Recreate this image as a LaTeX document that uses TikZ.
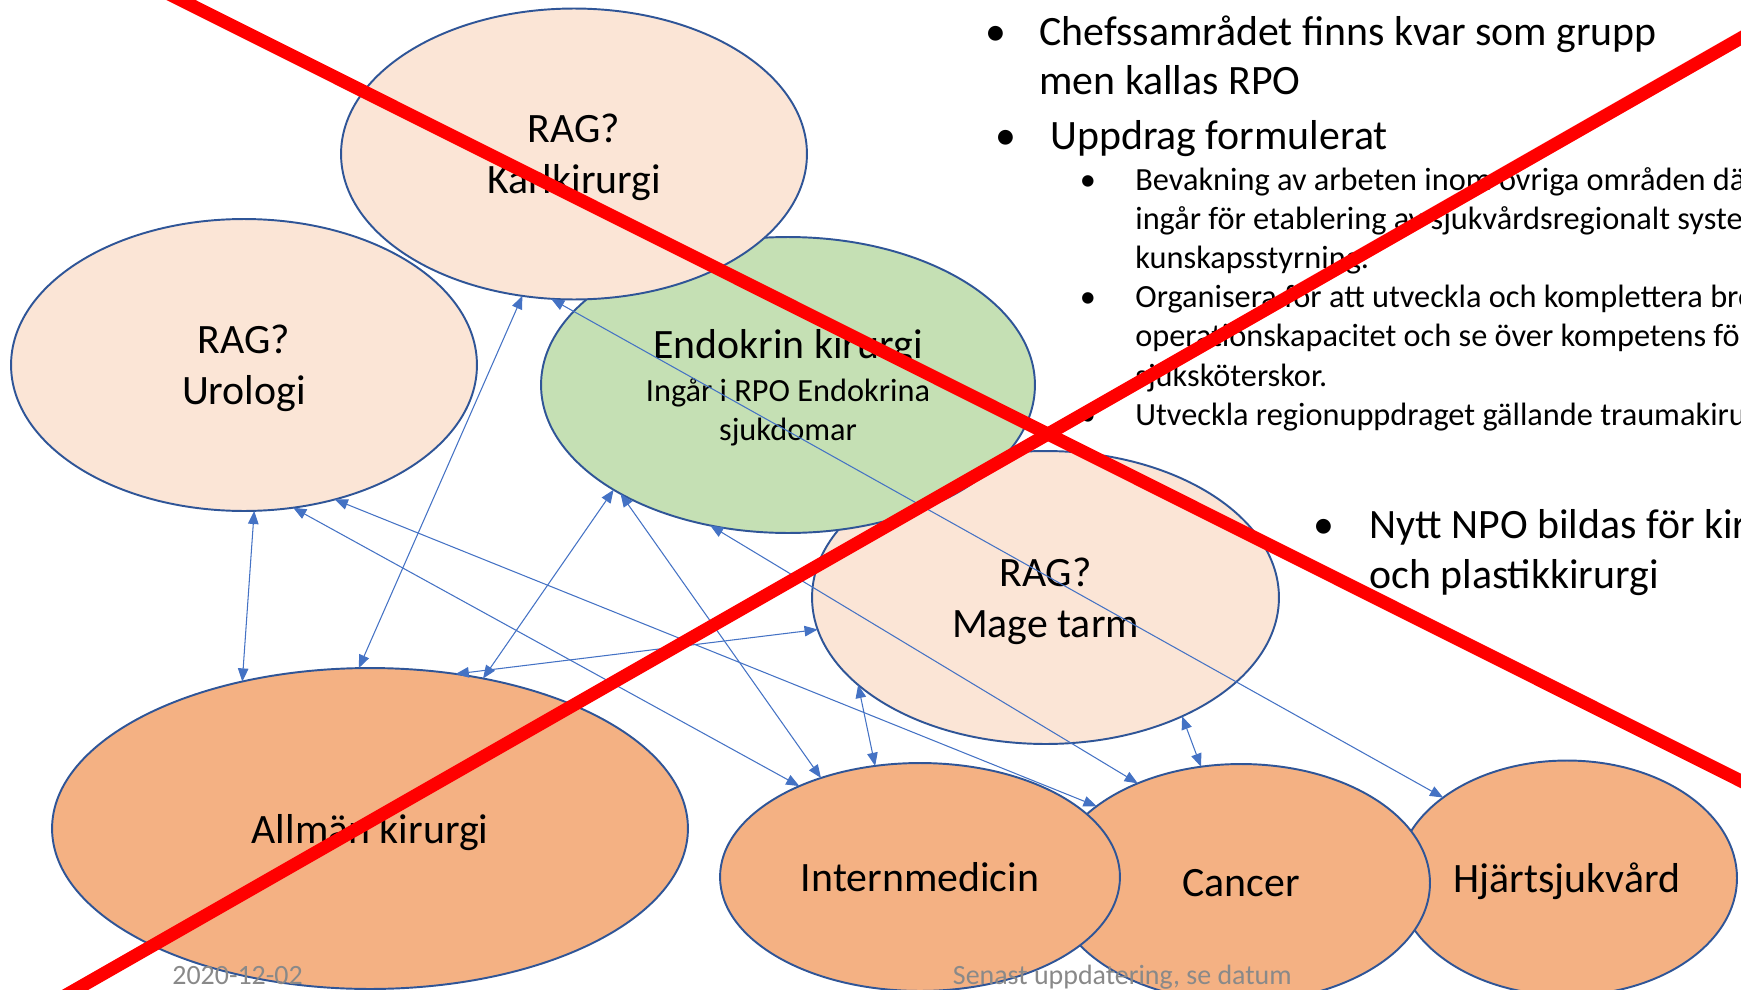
\documentclass[tikz,border=0pt]{standalone}
\usepackage{fontspec}
\setmainfont{Carlito}
\usetikzlibrary{shapes.geometric,arrows.meta}

\definecolor{rim}{HTML}{2F5597}
\definecolor{peach}{HTML}{FBE5D6}
\definecolor{leaf}{HTML}{C5E0B4}
\definecolor{orng}{HTML}{F4B183}
\definecolor{linkblue}{HTML}{4472C4}
\definecolor{footgray}{HTML}{898989}

\tikzset{
  area/.style={ellipse, draw=rim, line width=1.1pt, inner sep=0pt, outer sep=0pt,
    align=center, text depth=0pt, font=\fontsize{23.8}{29}\selectfont},
  tie/.style={draw=linkblue, line width=0.6pt,
    {Triangle[length=7.5pt,width=6pt]}-{Triangle[length=7.5pt,width=6pt]}},
  head/.style={anchor=base west, inner sep=0pt, font=\fontsize{23.8}{29}\selectfont},
  note/.style={anchor=base west, inner sep=0pt, font=\fontsize{18.4}{22}\selectfont},
  foot/.style={anchor=base west, inner sep=0pt, text=footgray, font=\fontsize{15.9}{19}\selectfont},
  veto/.style={draw=red, line width=7.4pt}
}

\begin{document}
\begin{tikzpicture}[x=0.02cm, y=0.02cm]
\useasboundingbox (0,0) rectangle (1741,-990);
\clip (0,0) rectangle (1741,-990);

\node[area, fill=peach, minimum width=9.34cm, minimum height=5.86cm] (mage) at (1045.5,-597.5) {RAG?\\Mage tarm};
\node[area, fill=leaf, minimum width=9.88cm, minimum height=5.92cm] (endo) at (788,-385)
  {Endokrin kirurgi\\[-4.7pt]{\fontsize{18.4}{22}\selectfont Ingår i RPO Endokrina}\\[-6.4pt]{\fontsize{18.4}{22}\selectfont sjukdomar}};
\node[area, fill=peach, minimum width=9.32cm, minimum height=5.84cm] (uro) at (244,-365) {RAG?\\Urologi};
\node[area, fill=peach, minimum width=9.32cm, minimum height=5.82cm] (karl) at (574,-154) {RAG?\\Kärlkirurgi};
\node[area, fill=orng, minimum width=6.8cm, minimum height=4.70cm] (hjart) at (1567,-878) {Hjärtsjukvård};
\node[area, fill=orng, minimum width=7.56cm, minimum height=4.76cm] (cancer) at (1241,-883) {Cancer};
\node[area, fill=orng, minimum width=8.0cm, minimum height=4.56cm] (intern) at (920,-877) {Internmedicin};
\node[area, fill=orng, minimum width=12.72cm, minimum height=6.42cm] (allm) at (370,-828.5) {Allmän kirurgi};

\draw[tie] (uro.-86) -- (allm.131);
\draw[tie] (karl.-110) -- (allm.94);
\draw[tie] (karl.-99) -- (hjart.147);
\draw[tie] (uro.-71) -- (intern.143);
\draw[tie] (uro.-56) -- (cancer.152);
\draw[tie] (endo.-149) -- (allm.53);
\draw[tie] (endo.-147.5) -- (intern.135);
\draw[tie] (allm.61) -- (mage.-172.4);
\draw[tie] (endo.-119) -- (cancer.136);
\draw[tie] (mage.-155.4) -- (intern.112);
\draw[tie] (mage.-41) -- (cancer.109);

\def\xa{996}
\def\xb{1039}
\def\xc{1006}
\def\xd{1050}
\def\xe{1088}
\def\xf{1135}
\def\xg{1323.5}
\def\xh{1369}

\node[head, anchor=base] (b1) at (\xa,-46) {•};
\node[head] (c1) at (\xb,-46) {Chefssamrådet finns kvar som grupp};
\node[head] (c2) at (\xb,-94.5) {men kallas RPO};
\node[head, anchor=base] (b2) at (\xc,-149.5) {•};
\node[head] (u1) at (\xd,-149.5) {Uppdrag formulerat};

\node[note, anchor=base] (s1) at (\xe,-190.5) {•};
\node[note] (v1) at (\xf,-190.5) {Bevakning av arbeten inom övriga områden där};
\node[note] (v2) at (\xf,-229.5) {ingår för etablering av sjukvårdsregionalt system};
\node[note] (v3) at (\xf,-268.5) {kunskapsstyrning.};
\node[note, anchor=base] (s2) at (\xe,-307) {•};
\node[note] (o1) at (\xf,-307) {Organisera för att utveckla och komplettera bred};
\node[note] (o2) at (\xf,-346) {operationskapacitet och se över kompetens för};
\node[note] (o3) at (\xf,-386) {sjuksköterskor.};
\node[note, anchor=base] (s3) at (\xe,-425.5) {•};
\node[note] (r1) at (\xf,-425.5) {Utveckla regionuppdraget gällande traumakirurgi};

\node[head, anchor=base] (b3) at (\xg,-538.5) {•};
\node[head] (n1) at (\xh,-538.5) {Nytt NPO bildas för kirurgi};
\node[head] (n2) at (\xh,-588.5) {och plastikkirurgi};

\node[foot] (date) at (172,-984.8) {2020-12-02};
\node[foot] (upd) at (952.6,-984.8) {Senast uppdatering, se datum};

\draw[veto] (161,10) -- (1761,-791);
\draw[veto] (55,-1001.4) -- (1761,-26.6);
\end{tikzpicture}
\end{document}
